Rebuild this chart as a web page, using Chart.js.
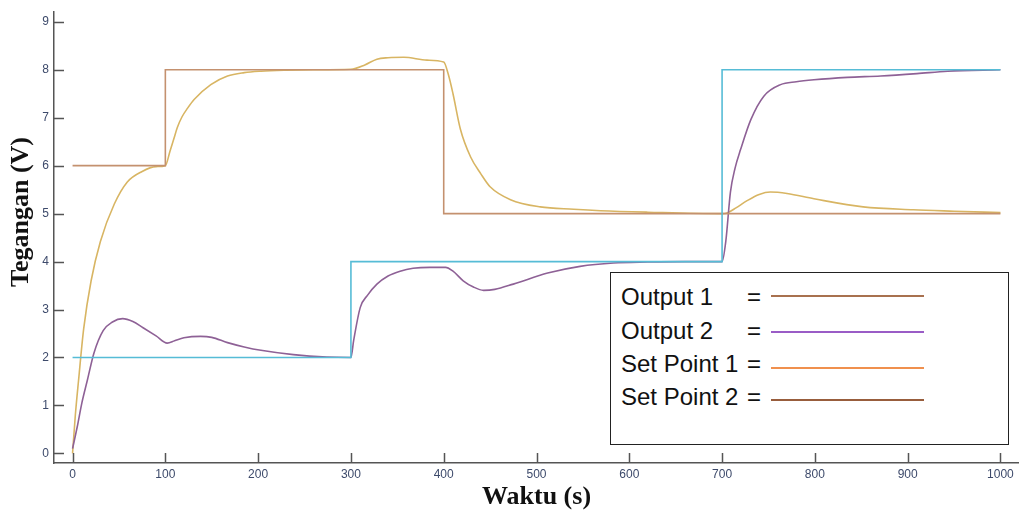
<!DOCTYPE html>
<html>
<head>
<meta charset="utf-8">
<title>Tegangan vs Waktu</title>
<script src="https://cdn.jsdelivr.net/npm/chart.js@4.4.1/dist/chart.umd.min.js"></script>
<style>
    body { margin: 0; background: #fff; }
    #wrap { position: relative; width: 1019px; height: 515px; }
    #ytitle {
        position: absolute; left: 20px; top: 212px;
        transform: translate(-50%, -50%) rotate(-90deg);
        font: bold 26px "Liberation Serif", "Times New Roman", serif;
        white-space: nowrap; color: #111;
    }
    #legend {
        position: absolute; left: 610px; top: 272px; width: 397px; height: 171px;
        border: 1.5px solid #222; background: #fff;
        font: 24px "Liberation Sans", Arial, sans-serif; color: #111;
    }
    #legend .row { position: absolute; left: 10px; height: 28px; line-height: 28px; white-space: nowrap; }
    #legend .eq { position: absolute; left: 136px; height: 28px; line-height: 28px; }
    #legend .swatch { position: absolute; left: 160px; width: 153px; height: 2px; }
</style>
</head>
<body>
<div id="wrap">
    <canvas id="chart" width="1019" height="515"></canvas>
    <div id="ytitle">Tegangan (V)</div>
    <div id="legend"></div>
</div>
<script>
/*global Chart*/

// time axis (s) and tick labels
var xTicks = [0, 100, 200, 300, 400, 500, 600, 700, 800, 900, 1000];
var yTicks = [0, 1, 2, 3, 4, 5, 6, 7, 8, 9];

// set points (step signals)
var sp1Time = [0, 100, 400, 1000];
var sp1Val = [6, 8, 5, 5];
var sp2Time = [0, 300, 700, 1000];
var sp2Val = [2, 4, 8, 8];

// output 1 (follows set point 1)
var out1Time = [0, 3, 6.5, 12, 20, 30, 45, 59, 75, 90, 100, 105, 109, 113, 118, 124, 131, 149, 167, 185, 203, 230, 260, 300,
    315, 328, 340, 357, 382, 400, 405, 410, 418, 429, 440, 450, 472, 504, 540, 569, 620, 700,
    706, 715, 727, 740, 752, 770, 799, 852, 906, 950, 1000];
var out1Val = [0, 0.8, 1.53, 2.6, 3.6, 4.42, 5.2, 5.66, 5.88, 5.98, 6.0, 6.3, 6.55, 6.8, 7.02, 7.2, 7.38, 7.69, 7.87, 7.94, 7.97, 7.99, 8.0, 8.01,
    8.1, 8.22, 8.25, 8.26, 8.2, 8.16, 7.9, 7.5, 6.76, 6.18, 5.83, 5.56, 5.29, 5.14, 5.09, 5.06, 5.03, 5.0,
    5.02, 5.12, 5.27, 5.4, 5.45, 5.42, 5.31, 5.14, 5.08, 5.05, 5.02];

// output 2 (follows set point 2)
var out2Time = [0, 5, 10, 16, 23, 33, 43, 54, 65, 76, 90, 102, 110, 120, 138, 150, 167, 185, 203, 238, 274, 300,
    303, 310, 318, 328, 340, 353, 367, 385, 402, 410, 421, 432, 443, 455, 475, 512, 547, 583, 620, 660, 700,
    704, 709, 714, 720, 731, 745, 763, 780, 799, 835, 871, 910, 943, 1000];
var out2Val = [0.1, 0.55, 1.05, 1.53, 2.09, 2.56, 2.74, 2.81, 2.75, 2.62, 2.45, 2.3, 2.35, 2.41, 2.44, 2.42, 2.31, 2.22, 2.15, 2.06, 2.01, 2.0,
    2.36, 3.04, 3.3, 3.53, 3.7, 3.8, 3.86, 3.88, 3.88, 3.8, 3.6, 3.47, 3.4, 3.42, 3.53, 3.76, 3.9, 3.97, 3.99, 4.0, 4.0,
    4.42, 5.45, 5.95, 6.34, 6.96, 7.45, 7.69, 7.75, 7.79, 7.84, 7.87, 7.92, 7.97, 8.0];

var legendItems = [
    {text: "Output 1", color: "#a8714f", y: 296, line: 295},
    {text: "Output 2", color: "#9a5cc6", y: 330, line: 331},
    {text: "Set Point 1", color: "#f0904e", y: 363, line: 367},
    {text: "Set Point 2", color: "#985d3c", y: 396, line: 399}
];

function pairs(t, v) {
    "use strict";
    return t.map(function (x, i) { return {x: x, y: v[i]}; });
}

var tickFont = {family: "'Liberation Sans', Arial, sans-serif", size: 12};
var tickColor = "#3d4a6b";
var axisColor = "#555";

// inward tick marks, like the original plot
var innerTicks = {
    id: "innerTicks",
    afterDatasetsDraw: function (chart) {
        "use strict";
        var ctx = chart.ctx, area = chart.chartArea, sx = chart.scales.x, sy = chart.scales.y;
        ctx.save();
        ctx.strokeStyle = axisColor;
        ctx.lineWidth = 1.5;
        ctx.beginPath();
        sx.ticks.forEach(function (t) {
            var px = Math.round(sx.getPixelForValue(t.value)) + 0.5;
            ctx.moveTo(px, area.bottom);
            ctx.lineTo(px, area.bottom - 10);
        });
        sy.ticks.forEach(function (t) {
            var py = Math.round(sy.getPixelForValue(t.value)) + 0.5;
            ctx.moveTo(area.left, py);
            ctx.lineTo(area.left + 10, py);
        });
        ctx.stroke();
        ctx.restore();
    }
};

var lineBase = {pointRadius: 0, borderWidth: 1.6, fill: false};

var chartData = {
    datasets: [
        Object.assign({label: "Set Point 2", data: pairs(sp2Time, sp2Val), borderColor: "#56bcd6", stepped: "before"}, lineBase),
        Object.assign({label: "Set Point 1", data: pairs(sp1Time, sp1Val), borderColor: "#c4916f", stepped: "before"}, lineBase),
        Object.assign({label: "Output 2", data: pairs(out2Time, out2Val), borderColor: "#8e6196", cubicInterpolationMode: "monotone"}, lineBase),
        Object.assign({label: "Output 1", data: pairs(out1Time, out1Val), borderColor: "#d8b563", cubicInterpolationMode: "monotone"}, lineBase)
    ]
};

var options = {
    responsive: false,
    animation: false,
    layout: {padding: {top: 8, right: 0, bottom: 0, left: 0}},
    plugins: {legend: {display: false}, tooltip: {enabled: false}},
    scales: {
        x: {
            type: "linear",
            min: -20,
            max: 1020,
            afterBuildTicks: function (scale) { scale.ticks = xTicks.map(function (v) { return {value: v}; }); },
            afterFit: function (scale) { scale.height = 52; },
            grid: {display: false, drawTicks: false},
            border: {display: true, color: axisColor, width: 1.5},
            ticks: {font: tickFont, color: tickColor, padding: 4, maxRotation: 0, autoSkip: false,
                callback: function (v) { return String(v); }},
            title: {
                display: true,
                text: "Waktu (s)",
                color: "#111",
                font: {family: "'Liberation Serif', 'Times New Roman', serif", size: 26, weight: "bold"},
                padding: {top: 0, bottom: 2}
            }
        },
        y: {
            min: -0.2,
            max: 9.2,
            afterBuildTicks: function (scale) { scale.ticks = yTicks.map(function (v) { return {value: v}; }); },
            afterFit: function (scale) { scale.width = 54; },
            grid: {display: false, drawTicks: false},
            border: {display: true, color: axisColor, width: 1.5},
            ticks: {font: tickFont, color: tickColor, padding: 5, autoSkip: false,
                callback: function (v) { return String(v); }}
        }
    }
};

function buildLegend() {
    "use strict";
    var box = document.getElementById("legend"), top = 272;
    legendItems.forEach(function (item) {
        var row = document.createElement("div"), eq = document.createElement("div"), sw = document.createElement("div");
        row.className = "row";
        row.textContent = item.text;
        row.style.top = (item.y - top - 14) + "px";
        eq.className = "eq";
        eq.textContent = "=";
        eq.style.top = (item.y - top - 14) + "px";
        sw.className = "swatch";
        sw.style.top = (item.line - top - 1) + "px";
        sw.style.background = item.color;
        box.appendChild(row);
        box.appendChild(eq);
        box.appendChild(sw);
    });
}

buildLegend();
var ctx = document.getElementById("chart").getContext("2d");
var myChart = new Chart(ctx, {type: "line", data: chartData, options: options, plugins: [innerTicks]});
</script>
</body>
</html>
